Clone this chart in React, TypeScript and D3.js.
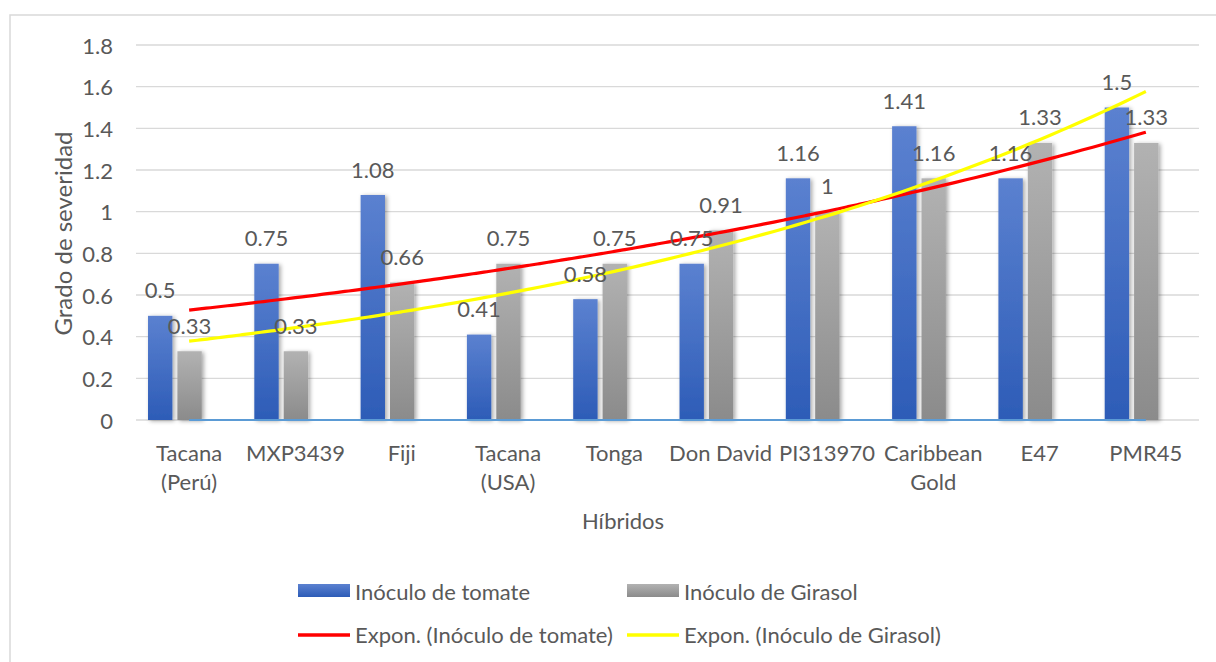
import React from "react";
import * as d3 from "d3";

const categories: string[][] = [
  ["Tacana", "(Perú)"],
  ["MXP3439"],
  ["Fiji"],
  ["Tacana", "(USA)"],
  ["Tonga"],
  ["Don David"],
  ["PI313970"],
  ["Caribbean", "Gold"],
  ["E47"],
  ["PMR45"],
];
const tomate = [0.5, 0.75, 1.08, 0.41, 0.58, 0.75, 1.16, 1.41, 1.16, 1.5];
const girasol = [0.33, 0.33, 0.66, 0.75, 0.75, 0.91, 1, 1.16, 1.33, 1.33];
const zeroSeries = [0, 0, 0, 0, 0, 0, 0, 0, 0, 0];
const yTicks = [0, 0.2, 0.4, 0.6, 0.8, 1, 1.2, 1.4, 1.6, 1.8];
const seriesKeys = ["tomate", "girasol", "zero"];

function expFit(vals: number[]) {
  const xs = vals.map((_, i) => i + 1);
  const ly = vals.map((v) => Math.log(v));
  const mx = d3.mean(xs)!;
  const my = d3.mean(ly)!;
  let sxy = 0,
    sxx = 0;
  xs.forEach((x, i) => {
    sxy += (x - mx) * (ly[i] - my);
    sxx += (x - mx) * (x - mx);
  });
  const b = sxy / sxx;
  const a = my - b * mx;
  return (x: number) => Math.exp(a + b * x);
}

const FONT = "Lato, 'Open Sans', sans-serif";
const TXT = "#595959";
const FS = 22;

export default function App() {
  const W = 1216,
    H = 662;
  const left = 136,
    right = 1199,
    top = 45,
    bottom = 420;
  const idx = categories.map((_, i) => String(i));
  const x = d3.scaleBand<string>().domain(idx).range([left, right]).padding(0);
  const bw = x.bandwidth();
  const xs = d3
    .scaleBand<string>()
    .domain(seriesKeys)
    .range([bw * 0.113, bw * 0.895])
    .paddingInner(0.17);
  const y = d3.scaleLinear().domain([0, 1.8]).range([bottom, top]);
  const center = (i: number) => x(String(i))! + bw / 2;
  const xc = d3.scaleLinear().domain([1, 10]).range([center(0), center(9)]);

  const fT = expFit(tomate);
  const fG = expFit(girasol);
  const pts = d3.range(1, 10.01, 0.1);
  const line = (f: (v: number) => number) =>
    d3
      .line<number>()
      .x((d) => xc(d))
      .y((d) => y(f(d)))
      .curve(d3.curveMonotoneX)(pts)!;
  const zeroLine = d3
    .line<number>()
    .x((_, i) => center(i))
    .y((d) => y(d))(zeroSeries)!;

  const fmt = (v: number) => String(v);

  return (
    <svg width={W} height={H} style={{ display: "block", position: "absolute", left: 0, top: 0 }}>
      <defs>
        <linearGradient id="gBlue" x1="0" y1="0" x2="0" y2="1">
          <stop offset="0" stopColor="#5b81d0" />
          <stop offset="1" stopColor="#2d5cb7" />
        </linearGradient>
        <linearGradient id="gGray" x1="0" y1="0" x2="0" y2="1">
          <stop offset="0" stopColor="#b2b2b2" />
          <stop offset="1" stopColor="#8b8b8b" />
        </linearGradient>
        <filter id="shadow" x="-50%" y="-10%" width="200%" height="130%">
          <feDropShadow dx="2" dy="1" stdDeviation="2" floodColor="#000" floodOpacity="0.35" />
        </filter>
      </defs>
      <rect x={0} y={0} width={W} height={H} fill="#fff" />
      <rect x={10} y={15} width={W} height={H} fill="#fff" stroke="#d9d9d9" strokeWidth={1.5} />

      {/* gridlines */}
      {yTicks.map((t) => (
        <line key={t} x1={left} x2={right} y1={y(t)} y2={y(t)} stroke="#d9d9d9" strokeWidth={1.3} />
      ))}
      {yTicks.map((t) => (
        <text
          key={"l" + t}
          x={113}
          y={y(t)}
          textAnchor="end"
          dominantBaseline="central"
          fontFamily={FONT}
          fontSize={FS}
          fill={TXT}
        >
          {fmt(t)}
        </text>
      ))}

      {/* bars */}
      {categories.map((_, i) => {
        const x0 = x(String(i))!;
        return (
          <g key={i} filter="url(#shadow)">
            <rect
              x={x0 + xs("tomate")!}
              y={y(tomate[i])}
              width={xs.bandwidth()}
              height={y(0) - y(tomate[i])}
              fill="url(#gBlue)"
            />
            <rect
              x={x0 + xs("girasol")!}
              y={y(girasol[i])}
              width={xs.bandwidth()}
              height={y(0) - y(girasol[i])}
              fill="url(#gGray)"
            />
          </g>
        );
      })}

      {/* zero series line */}
      <path d={zeroLine} fill="none" stroke="#5b9bd5" strokeWidth={2.2} />

      {/* trendlines */}
      <path d={line(fT)} fill="none" stroke="#ff0000" strokeWidth={3.2} />
      <path d={line(fG)} fill="none" stroke="#ffff00" strokeWidth={3.2} />

      {/* data labels */}
      {categories.map((_, i) => {
        const x0 = x(String(i))!;
        return (
          <g key={"dl" + i} fontFamily={FONT} fontSize={FS} fill={TXT} textAnchor="middle">
            <text x={x0 + xs("tomate")! + xs.bandwidth() / 2} y={y(tomate[i]) - 26} dominantBaseline="central">
              {fmt(tomate[i])}
            </text>
            <text x={x0 + xs("girasol")! + xs.bandwidth() / 2} y={y(girasol[i]) - 26} dominantBaseline="central">
              {fmt(girasol[i])}
            </text>
          </g>
        );
      })}

      {/* category labels */}
      {categories.map((lines, i) => (
        <text key={"c" + i} x={center(i)} y={452} textAnchor="middle" fontFamily={FONT} fontSize={FS} fill={TXT}>
          {lines.map((s, j) => (
            <tspan key={j} x={center(i)} y={452 + j * 29} dominantBaseline="central">
              {s}
            </tspan>
          ))}
        </text>
      ))}

      {/* axis titles */}
      <text
        transform={`translate(62,${(top + bottom) / 2 + 1}) rotate(-90)`}
        textAnchor="middle"
        dominantBaseline="central"
        fontFamily={FONT}
        fontSize={24}
        fill={TXT}
      >
        Grado de severidad
      </text>
      <text x={623} y={520} textAnchor="middle" dominantBaseline="central" fontFamily={FONT} fontSize={FS} fill={TXT}>
        Híbridos
      </text>

      {/* legend */}
      <g fontFamily={FONT} fontSize={FS} fill={TXT}>
        <rect x={298} y={584} width={52} height={13} fill="url(#gBlue)" />
        <text x={355} y={591} dominantBaseline="central">
          Inóculo de tomate
        </text>
        <rect x={627} y={584} width={52} height={13} fill="url(#gGray)" />
        <text x={684} y={591} dominantBaseline="central">
          Inóculo de Girasol
        </text>
        <line x1={298} x2={350} y1={635} y2={635} stroke="#ff0000" strokeWidth={3.5} />
        <text x={355} y={634} dominantBaseline="central">
          Expon. (Inóculo de tomate)
        </text>
        <line x1={627} x2={679} y1={635} y2={635} stroke="#ffff00" strokeWidth={3.5} />
        <text x={684} y={634} dominantBaseline="central">
          Expon. (Inóculo de Girasol)
        </text>
      </g>
    </svg>
  );
}
